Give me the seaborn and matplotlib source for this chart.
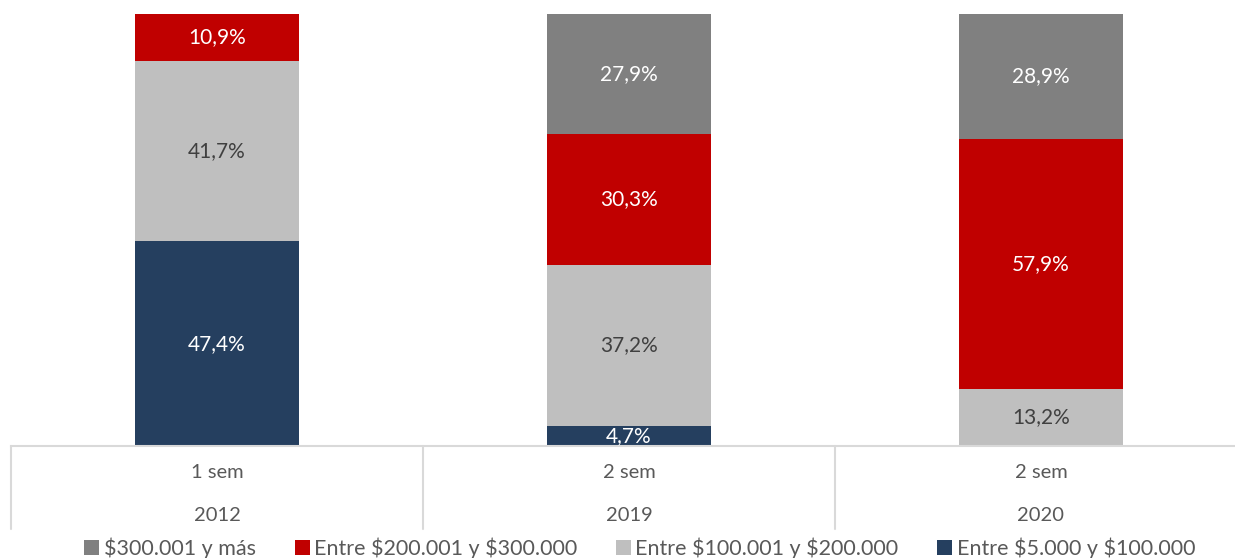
import numpy as np
import pandas as pd
import matplotlib
matplotlib.use('Agg')
import matplotlib.pyplot as plt
import matplotlib.transforms as mtransforms
from matplotlib.patches import Patch
import seaborn as sns

# Datos
periodos = ['2012', '2019', '2020']
semestres = ['1 sem', '2 sem', '2 sem']
series = ['Entre $5.000 y $100.000', 'Entre $100.001 y $200.000',
          'Entre $200.001 y $300.000', '$300.001 y más']
tramo_5_100 = [47.4, 4.7, 0.0]
tramo_100_200 = [41.7, 37.2, 13.2]
tramo_200_300 = [10.9, 30.3, 57.9]
tramo_300_mas = [0.0, 27.9, 28.9]
valores = [tramo_5_100, tramo_100_200, tramo_200_300, tramo_300_mas]

colores = ['#253F5F', '#BFBFBF', '#C00000', '#808080']
color_texto = ['white', '#404040', 'white', 'white']

sns.set_style('white')
plt.rcParams['font.family'] = ['Lato', 'DejaVu Sans']

fig = plt.figure(figsize=(12.35, 5.58), dpi=100)
ax = fig.add_axes([11 / 1235, 112 / 558, 1236 / 1235, 432 / 558])

# Barras apiladas
base = np.zeros(len(periodos))
for nombre, vals, col, ct in zip(series, valores, colores, color_texto):
    sns.barplot(x=periodos, y=vals, bottom=base, color=col, width=0.4,
                ax=ax, saturation=1, linewidth=0)
    for i, v in enumerate(vals):
        if v > 0:
            ax.text(i, base[i] + v / 2, f'{v:.1f}%'.replace('.', ','),
                    ha='center', va='center', color=ct, fontsize=15)
    base = base + np.array(vals)

ax.set_xlim(-0.5, 2.5)
ax.set_ylim(0, 100)
ax.set_yticks([])
ax.set_xticks([])
ax.set_xlabel('')
for s in ['top', 'right', 'left']:
    ax.spines[s].set_visible(False)
ax.spines['bottom'].set_color('#D9D9D9')
ax.spines['bottom'].set_linewidth(1.5)

# Etiquetas de categoría en dos niveles con separadores
trans = mtransforms.blended_transform_factory(ax.transData, ax.transAxes)
for xs in np.arange(-0.5, len(periodos), 1.0):
    ax.plot([xs, xs], [0, -0.192], transform=trans, color='#D9D9D9',
            lw=1.5, clip_on=False)
for i, (sem, anio) in enumerate(zip(semestres, periodos)):
    ax.text(i, -0.0625, sem, transform=trans, ha='center', va='center',
            color='#595959', fontsize=14.5)
    ax.text(i, -0.162, anio, transform=trans, ha='center', va='center',
            color='#595959', fontsize=14.5)

# Leyenda
orden = [3, 2, 1, 0]
handles = [Patch(facecolor=colores[k], edgecolor='none') for k in orden]
etiquetas = [series[k].replace('$', r'\$') for k in orden]
fig.legend(handles, etiquetas, loc='center',
           bbox_to_anchor=(0.518, 1 - 548 / 558), ncol=4, frameon=False,
           fontsize=15.5, labelcolor='#595959', handlelength=0.7,
           handleheight=0.7, handletextpad=0.2, columnspacing=1.8)

fig.savefig('out.png', dpi=100)
